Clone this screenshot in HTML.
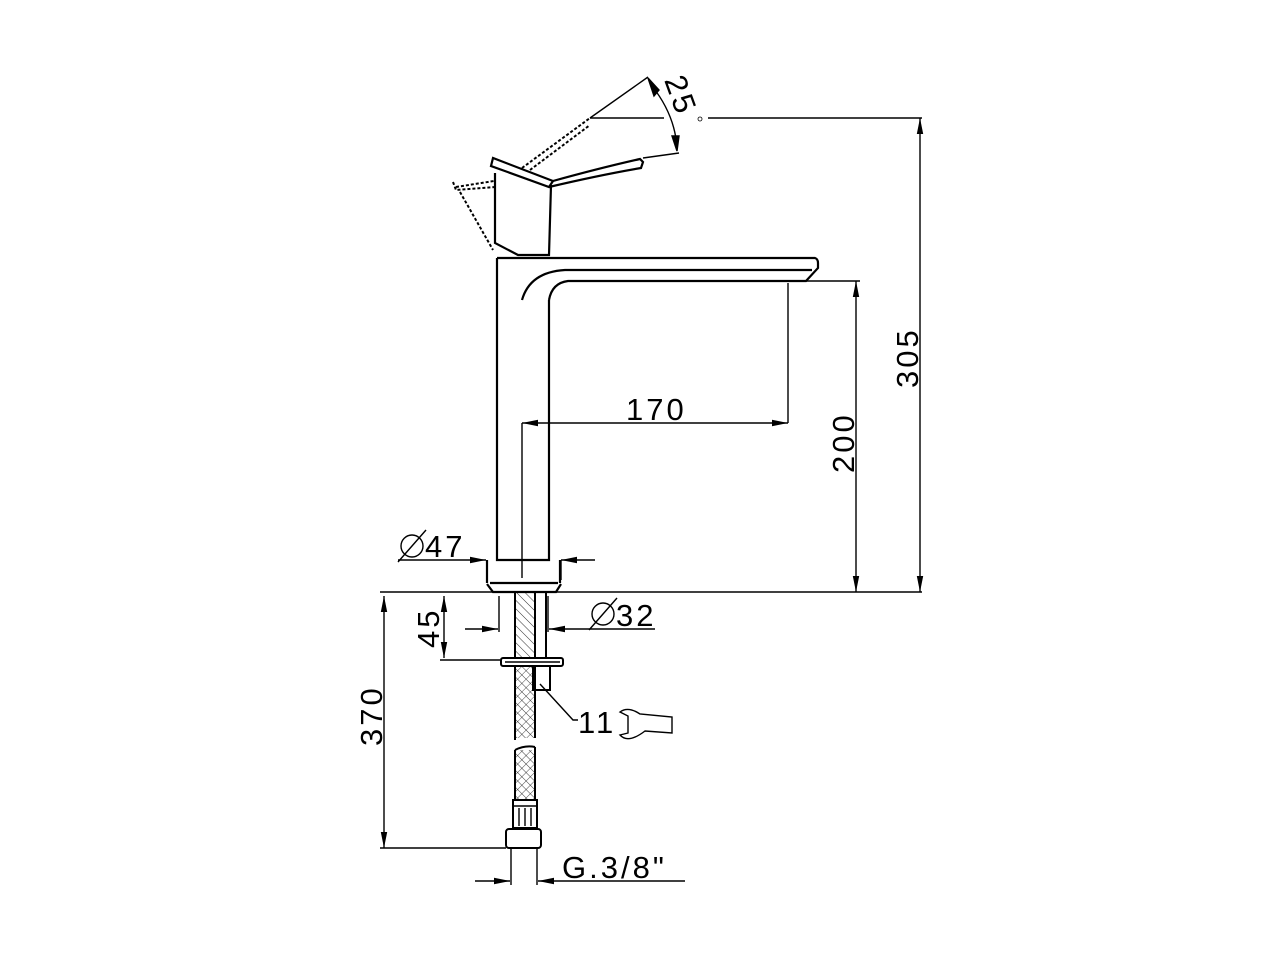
<!DOCTYPE html>
<html><head><meta charset="utf-8"><style>
html,body{margin:0;padding:0;background:#fff;}
svg{display:block;}
text{font-family:"Liberation Sans",sans-serif;font-size:31px;fill:#000;letter-spacing:3px;}
</style></head><body>
<svg width="1280" height="960" viewBox="0 0 1280 960" xmlns="http://www.w3.org/2000/svg">
<defs>
<marker id="a" viewBox="0 0 10 10" refX="10" refY="5" markerWidth="16" markerHeight="16" orient="auto-start-reverse" markerUnits="userSpaceOnUse"><path d="M0,3 L10,5 L0,7z" fill="#000"/></marker>
<pattern id="h" width="6" height="6" patternUnits="userSpaceOnUse" patternTransform="rotate(-45)"><line x1="0" y1="0" x2="0" y2="6" stroke="#000" stroke-width="0.8"/></pattern>
<pattern id="x" width="6" height="6" patternUnits="userSpaceOnUse" patternTransform="rotate(45)"><path d="M0,0V6M0,0H6" stroke="#000" stroke-width="0.7" fill="none"/></pattern>
</defs>
<g fill="none" stroke="#000" stroke-width="1.4">
<line x1="380" y1="592" x2="922" y2="592"/>
<line x1="708" y1="118" x2="922" y2="118"/>
<line x1="920" y1="118" x2="920" y2="592" marker-start="url(#a)" marker-end="url(#a)"/>
<line x1="805" y1="281" x2="860" y2="281"/>
<line x1="856" y1="281" x2="856" y2="592" marker-start="url(#a)" marker-end="url(#a)"/>
<line x1="788" y1="283" x2="788" y2="423"/>
<line x1="522" y1="423" x2="522" y2="578"/>
<line x1="522" y1="423" x2="788" y2="423" marker-start="url(#a)" marker-end="url(#a)"/>
<line x1="398" y1="560" x2="486" y2="560" marker-end="url(#a)"/>
<line x1="595" y1="560" x2="561" y2="560" marker-end="url(#a)"/>
<line x1="487" y1="560" x2="487" y2="580"/>
<line x1="561" y1="560" x2="561" y2="580"/>
<g stroke-width="2.2">
<path d="M497,258 V560 H549 V300"/>
<path d="M490,583 H558 M487,583 V560 M560,583 V560 M487,584 L493,592 H556 L561,584"/>
<path d="M497,258 H815 Q818,259 818,263 V268 L806,281 H568 Q552,283 549,300"/>
<path d="M522,300 Q530,272 565,270 H812"/>
<path d="M495,173 V243 L518,255 H549 L551,185"/>
<path d="M493,158 L491,166 L549,187 L553,181 Z"/>
<path d="M553,181 Q600,168 640,159 L643,162 L641,168 Q600,175 549,187"/>
</g>
<g stroke-dasharray="3,2" stroke-width="2">
<path d="M453,182 L456,190 L495,187"/>
<path d="M456,187 L494,181"/>
<path d="M460,192 L493,250"/>
<path d="M522,168 L590,118 M530,170 L590,125"/>
</g>
<line x1="590" y1="118" x2="648" y2="77"/>
<line x1="590" y1="118" x2="664" y2="118"/>
<line x1="643" y1="158" x2="679" y2="153"/>
<path d="M652,86 Q675,115 677,148"/>
<path d="M648,78 l6,18 l5,-6z M677,151 l-5,-15 l7,0z" fill="#000"/>
<circle cx="700" cy="119" r="2" stroke-width="0.8"/>
<rect x="515" y="592" width="20" height="66" fill="url(#h)" stroke-width="2"/>
<rect x="535" y="592" width="11" height="66" stroke-width="2"/>
<line x1="499" y1="596" x2="499" y2="632"/>
<line x1="548" y1="596" x2="548" y2="632"/>
<line x1="465" y1="629" x2="498" y2="629" marker-end="url(#a)"/>
<line x1="655" y1="629" x2="549" y2="629" marker-end="url(#a)"/>
<rect x="501" y="658" width="62" height="8" rx="2" stroke-width="2"/>
<line x1="505" y1="662" x2="560" y2="662"/>
<rect x="533" y="666" width="17" height="24" stroke-width="2"/>
<line x1="444" y1="596" x2="444" y2="658" marker-start="url(#a)" marker-end="url(#a)"/>
<line x1="440" y1="660" x2="500" y2="660"/>
<path d="M515,666 V740 M535,666 V738" stroke-width="2"/>
<rect x="515" y="666" width="20" height="72" fill="url(#x)" stroke="none"/>
<path d="M515,750 V800 M535,747 V800 M515,750 Q525,745 535,747" stroke-width="2"/>
<rect x="515" y="750" width="20" height="50" fill="url(#x)" stroke="none"/>
<rect x="513" y="800" width="24" height="28" stroke-width="2"/>
<path d="M519,808 V826 M525,808 V826 M531,808 V826 M513,806 H537"/>
<rect x="506" y="829" width="35" height="19" rx="3" stroke-width="2"/>
<line x1="511" y1="848" x2="511" y2="885"/>
<line x1="537" y1="848" x2="537" y2="885"/>
<line x1="475" y1="881" x2="510" y2="881" marker-end="url(#a)"/>
<line x1="685" y1="881" x2="538" y2="881" marker-end="url(#a)"/>
<line x1="380" y1="848" x2="506" y2="848"/>
<line x1="384" y1="596" x2="384" y2="848" marker-start="url(#a)" marker-end="url(#a)"/>
<path d="M540,684 L573,720 H578"/>
<path d="M620,712 Q628,706 640,714 L672,717 V733 L645,731 Q628,744 620,735 L628,733 L628,716 Z"/>
<circle cx="412" cy="546" r="11"/><line x1="398" y1="562" x2="426" y2="530"/>
<circle cx="603" cy="614" r="11"/><line x1="589" y1="630" x2="617" y2="598"/>
</g>
<text x="425" y="557">47</text>
<text x="616" y="626">32</text>
<text x="626" y="420">170</text>
<text x="578" y="733">11</text>
<text x="562" y="878">G.3/8"</text>
<text transform="translate(918,388) rotate(-90)">305</text>
<text transform="translate(854,473) rotate(-90)">200</text>
<text transform="translate(439,648) rotate(-90)">45</text>
<text transform="translate(382,746) rotate(-90)">370</text>
<text transform="translate(664,80) rotate(70)">25</text>
</svg>
</body></html>
